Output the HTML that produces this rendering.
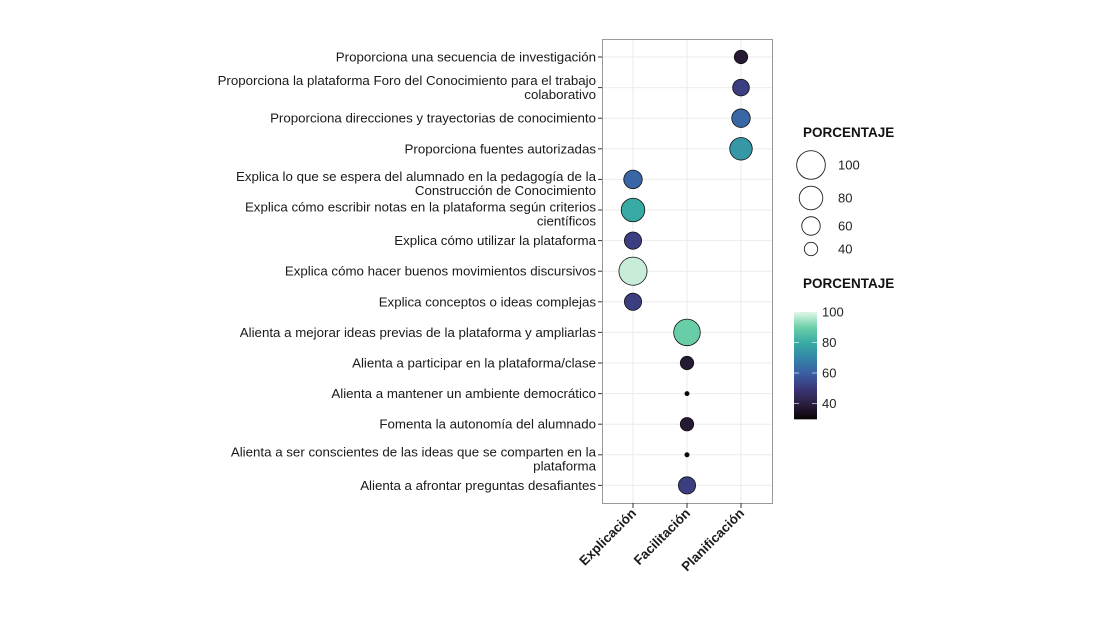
<!DOCTYPE html>
<html><head><meta charset="utf-8"><style>
body{margin:0;background:#fff;}
svg text{font-family:"Liberation Sans",sans-serif;}
</style></head><body>
<svg width="1115" height="627" viewBox="0 0 1115 627">
<rect x="602.5" y="39.5" width="170" height="464" fill="#fff" stroke="#999"/>
<g id="grid"></g>
<g id="ylabels"></g>
<g id="xlabels"></g>
<g id="points"></g>
<g id="legend"></g>
</svg>
<script>
const categories=["Proporciona una secuencia de investigación","Proporciona la plataforma Foro del Conocimiento para el trabajo|colaborativo","Proporciona direcciones y trayectorias de conocimiento","Proporciona fuentes autorizadas","Explica lo que se espera del alumnado en la pedagogía  de la|Construcción de Conocimiento","Explica cómo escribir notas en la plataforma según criterios|científicos","Explica cómo utilizar la plataforma","Explica cómo hacer buenos movimientos discursivos","Explica conceptos o ideas complejas","Alienta a mejorar ideas previas de la plataforma y ampliarlas","Alienta a participar en la plataforma/clase","Alienta a mantener un ambiente democrático","Fomenta la autonomía del alumnado","Alienta a ser conscientes de las ideas que se comparten en la|plataforma","Alienta a afrontar preguntas desafiantes"];
const groups=["Explicación","Facilitación","Planificación"];
const pointGroup=[2,2,2,2,0,0,0,0,0,1,1,1,1,1,1];
const sizeValues=[40,53,60,76,60,80,55,98,55,92,40,10,40,10,55];
const colorValues=[38,52,62,75,62,80,52,98,52,90,38,25,38,25,52];
const sizeTicks=[100,80,60,40];
const colorTicks=[100,80,60,40];
const NS="http://www.w3.org/2000/svg";
function mk(t,a,p){const e=document.createElementNS(NS,t);for(const k in a)e.setAttribute(k,a[k]);p.appendChild(e);return e;}
const xPos=i=>633+i*54;
const yPos=i=>57+i*30.6;
const rad=v=>Math.max(2.1,6.7+(v-40)*0.127-(v<30?2.2:0));
const stops=[[30,[11,4,5]],[40,[43,30,62]],[50,[59,55,120]],[60,[58,94,163]],[70,[52,133,168]],[80,[56,170,164]],[90,[105,206,168]],[100,[222,245,229]]];
function col(v){v=Math.max(30,Math.min(100,v));for(let i=1;i<stops.length;i++){if(v<=stops[i][0]){const a=stops[i-1],b=stops[i],t=(v-a[0])/(b[0]-a[0]);return "rgb("+a[1].map((c,j)=>Math.round(c+(b[1][j]-c)*t)).join(",")+")";}}return "rgb(222,245,229)";}
const grid=document.getElementById('grid'),yl=document.getElementById('ylabels'),xl=document.getElementById('xlabels'),pts=document.getElementById('points'),lg=document.getElementById('legend');
categories.forEach((c,i)=>{const y=yPos(i);
 const g=mk('line',{x1:603,x2:772,y1:y,y2:y,stroke:'#ebebeb','stroke-width':1},grid);
 
 const tk=mk('line',{x1:598,x2:602,y1:y,y2:y,stroke:'#333'},yl);
 
 const parts=c.split('|');
 const off=parts.length>1?(i==1?-7:-3):0;
 parts.forEach((p,k)=>{const t=mk('text',{x:596,y:y+off+k*14+4.5,'text-anchor':'end','font-size':13.3,fill:'#1a1a1a'},yl);t.textContent=p;
 });
});
groups.forEach((g,i)=>{const x=xPos(i);
 const gl=mk('line',{x1:x,x2:x,y1:40,y2:503,stroke:'#ebebeb'},grid);
 
 const tk=mk('line',{x1:x,x2:x,y1:503,y2:508,stroke:'#333'},xl);
 
 const t=mk('text',{x:x+4,y:514,'text-anchor':'end','font-size':13.3,'font-weight':'bold',fill:'#1a1a1a',transform:'rotate(-45 '+(x+4)+' 514)'},xl);t.textContent=g;
 
});
sizeValues.forEach((v,i)=>{const c=mk('circle',{cx:xPos(pointGroup[i]),cy:yPos(i),r:rad(v),fill:col(colorValues[i]),stroke:'#111','stroke-width':0.8},pts);
 });
let t=mk('text',{x:803,y:137,'font-size':13.5,'font-weight':'bold',fill:'#111'},lg);t.textContent='PORCENTAJE';

const ly=[165,198,226,249];
sizeTicks.forEach((v,i)=>{const c=mk('circle',{cx:811,cy:ly[i],r:rad(v),fill:'#fff',stroke:'#222','stroke-width':0.9},lg);
 
 const tx=mk('text',{x:838,y:ly[i]+4.5,'font-size':13,fill:'#222'},lg);tx.textContent=v;
 });
t=mk('text',{x:803,y:288,'font-size':13.5,'font-weight':'bold',fill:'#111'},lg);t.textContent='PORCENTAJE';

const cy=v=>312+(100-v)*(30.5/20);
for(let v=30;v<100;v+=1){const r=mk('rect',{x:794,y:cy(v+1),width:23,height:cy(v)-cy(v+1)+0.6,fill:col(v+0.5)},lg);
 }
colorTicks.forEach(v=>{const y=cy(v);
 mk('line',{x1:794,x2:799,y1:y,y2:y,stroke:'#fff','stroke-opacity':0.6},lg);mk('line',{x1:812,x2:817,y1:y,y2:y,stroke:'#fff','stroke-opacity':0.6},lg);
 const tx=mk('text',{x:822,y:y+4.5,'font-size':13,fill:'#222'},lg);tx.textContent=v;
 });
</script>
</body></html>
